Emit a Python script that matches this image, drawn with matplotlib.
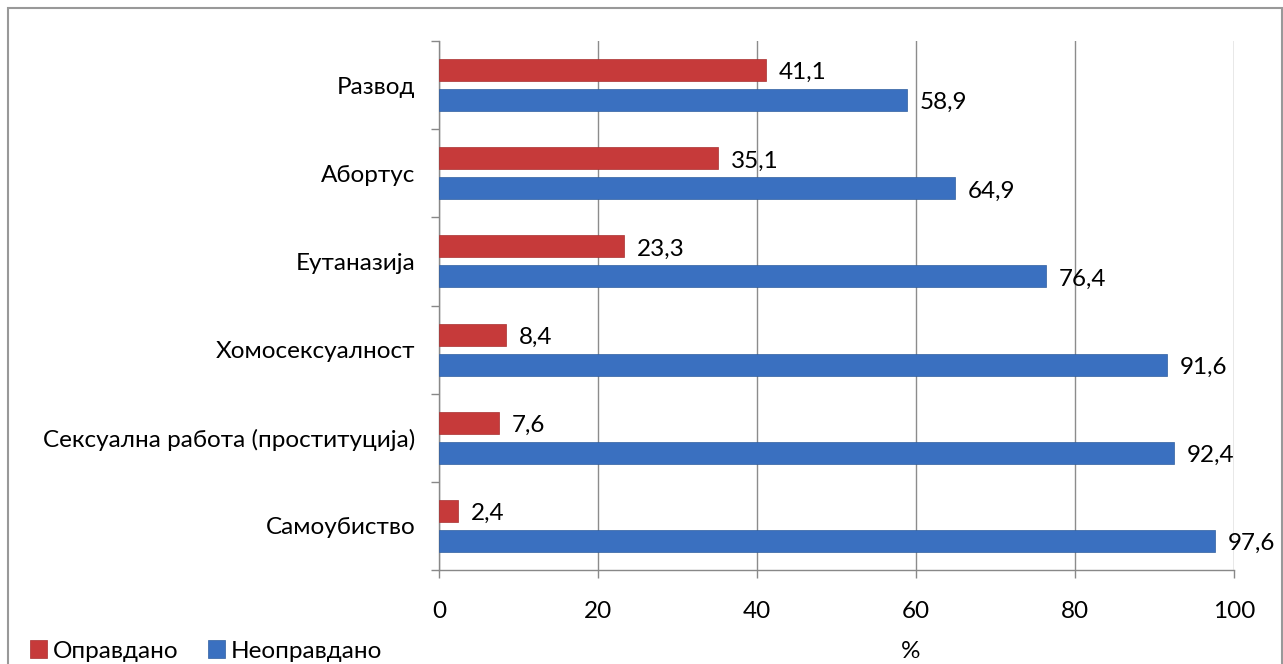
import matplotlib
matplotlib.use("Agg")
import matplotlib.pyplot as plt
import numpy as np
from matplotlib.patches import Rectangle

categories = ["Развод", "Абортус", "Еутаназија", "Хомосексуалност",
              "Сексуална работа (проституција)", "Самоубиство"]
opravdano = [41.1, 35.1, 23.3, 8.4, 7.6, 2.4]
neopravdano = [58.9, 64.9, 76.4, 91.6, 92.4, 97.6]
xticks = [0, 20, 40, 60, 80, 100]
series_names = ["Оправдано", "Неоправдано"]

plt.rcParams['font.family'] = ['Lato', 'DejaVu Sans']

W, H = 1283, 664
fig = plt.figure(figsize=(W/100, H/100), dpi=100)
ax = fig.add_axes([439/W, 1-570/H, (1234-439)/W, (570-41)/H])

n = len(categories)
pos = np.arange(n)[::-1]  # top category first
h = 0.25
red = '#C63A3A'
blue = '#3A70C0'
ax.barh(pos + 0.17, opravdano, height=h, color=red, edgecolor='#A83030', linewidth=0.5, label=series_names[0], zorder=3)
ax.barh(pos - 0.17, neopravdano, height=h, color=blue, edgecolor='#2F5E9F', linewidth=0.5, label=series_names[1], zorder=3)

fs = 17.5
for p, v in zip(pos, opravdano):
    ax.text(v + 1.6, p + 0.14, f"{v:.1f}".replace('.', ','), va='center', ha='left', fontsize=fs)
for p, v in zip(pos, neopravdano):
    ax.text(v + 1.6, p - 0.2, f"{v:.1f}".replace('.', ','), va='center', ha='left', fontsize=fs)

ax.set_xlim(0, 100)
ax.set_ylim(-0.5, n - 0.5)
ax.set_xticks(xticks)
ax.set_xticklabels([str(x) for x in xticks], fontsize=fs)
ax.set_yticks(pos)
ax.set_yticklabels(categories, fontsize=fs)
ax.tick_params(axis='y', length=0, pad=17)
ax.set_yticks(np.arange(n + 1) - 0.5, minor=True)
ax.tick_params(axis='y', which='minor', length=6, color='#888888', width=1)
ax.tick_params(axis='x', length=6, color='#888888', width=1, pad=16)
ax.grid(axis='x', color='#8C8C8C', linewidth=1, zorder=0)
for s in ['top', 'right']:
    ax.spines[s].set_visible(False)
for s in ['left', 'bottom']:
    ax.spines[s].set_color('#888888')
    ax.spines[s].set_linewidth(1)

fig.text(911/W, 1-651/H, "%", ha='center', va='center', fontsize=fs)

leg = fig.legend(loc='center left', bbox_to_anchor=(30/W, 1-651/H), ncol=2, frameon=False,
                 fontsize=fs, handlelength=0.7, handleheight=0.7, handletextpad=0.25,
                 columnspacing=1.2, borderaxespad=0, borderpad=0)

fig.patches.append(Rectangle((8/W, -0.01), (W-9)/W, 1-8/H+0.01, transform=fig.transFigure,
                             fill=False, edgecolor='#999999', linewidth=1.5))

fig.savefig("out.png", dpi=100)
